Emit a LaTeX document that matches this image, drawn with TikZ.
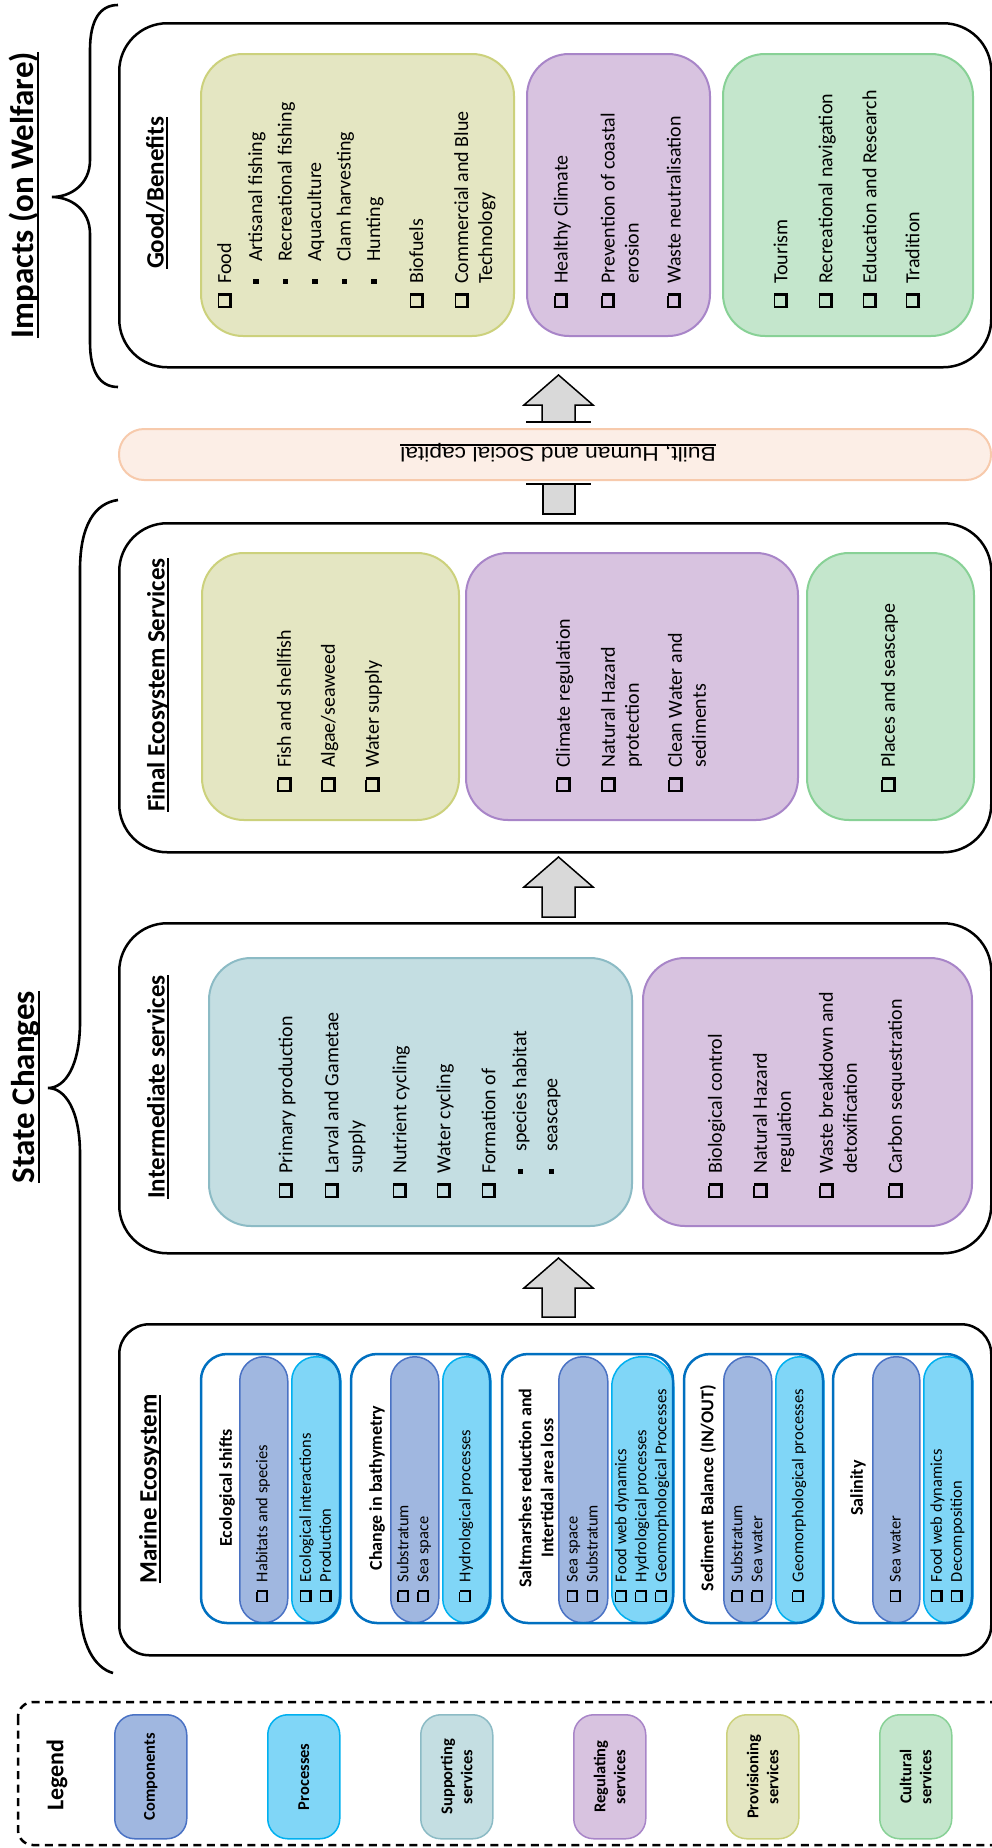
\documentclass[tikz,border=0pt]{standalone}
\usepackage{fontspec}
\setmainfont{Carlito}
\newfontfamily\libs{Liberation Sans}
\definecolor{compF}{RGB}{160,183,224}
\definecolor{compD}{RGB}{74,114,196}
\definecolor{procF}{RGB}{128,214,247}
\definecolor{procD}{RGB}{0,176,240}
\definecolor{suppF}{RGB}{196,222,226}
\definecolor{suppD}{RGB}{140,187,197}
\definecolor{reguF}{RGB}{216,195,224}
\definecolor{reguD}{RGB}{168,133,200}
\definecolor{provF}{RGB}{228,230,194}
\definecolor{provD}{RGB}{204,209,124}
\definecolor{cultF}{RGB}{196,230,204}
\definecolor{cultD}{RGB}{136,209,150}
\definecolor{capF}{RGB}{252,238,230}
\definecolor{capD}{RGB}{247,202,172}
\definecolor{grpD}{RGB}{0,112,192}
\definecolor{arrF}{RGB}{217,217,217}
% shadowed check box drawn with rules
\newcommand{\sqbox}{\makebox[0.72em][l]{%
 \rlap{\rule[-0.04em]{0.72em}{0.15em}}%
 \rlap{\rule[0.6em]{0.58em}{0.07em}}%
 \rlap{\rule[-0.04em]{0.07em}{0.71em}}%
 \rlap{\hspace{0.57em}\rule[-0.04em]{0.15em}{0.69em}}}}
\newcommand{\cbx}{\makebox[1.2em][l]{\sqbox}}
\newcommand{\ind}{\hspace*{1.2em}}
\newcommand{\bul}{\makebox[1.1em][l]{\raisebox{0.18em}{\rule{0.26em}{0.26em}}}}
\newcommand{\ulx}[1]{\setbox0=\hbox{#1}\rlap{\rule[-0.17em]{\wd0}{0.07em}}\box0}
\begin{document}
\begin{tikzpicture}[x=1pt,y=-1pt,
  bigbox/.style={draw=black, line width=2.5pt, fill=white, rounded corners=48pt, inner sep=0pt, anchor=north west},
  svc/.style={line width=2pt, rounded corners=42pt, inner sep=0pt, anchor=north west, minimum height=#1},
  pill/.style={line width=1.5pt, inner sep=0pt, anchor=north west, minimum height=266pt},
  leg/.style={line width=1.5pt, inner sep=0pt, anchor=north west, minimum width=72pt, minimum height=124pt, rounded corners=20pt},
  grpline/.style={draw=grpD, line width=2.5pt, rounded corners=26pt},
  blockarrow/.style={draw=black, fill=arrF, line width=1.5pt, line join=miter},
  brace/.style={draw=black, line width=2.6pt},
  bigtitle/.style={rotate=90, inner sep=0pt, font=\fontsize{33}{40}\selectfont\bfseries},
  boxtitle/.style={rotate=90, inner sep=0pt, font=\fontsize{25}{30}\selectfont\bfseries},
  lst/.style={rotate=90, anchor=west, align=left, inner sep=0pt, font=\fontsize{20}{24}\selectfont},
  mlst/.style={rotate=90, anchor=west, align=left, inner sep=0pt, font=\fontsize{16.5}{20}\selectfont},
  ghead/.style={rotate=90, align=center, inner sep=0pt, font=\fontsize{18}{22}\selectfont\bfseries},
  legtxt/.style={rotate=90, align=center, inner sep=0pt, font=\fontsize{16.5}{20}\selectfont\bfseries}
]
\useasboundingbox (0,0) rectangle (992,1848);

% ---------- braces and big titles ----------
\draw[brace] (118,5) .. controls (100,5) and (90,20) .. (90,50) -- (90,160)
  .. controls (90,185) and (70,197) .. (52,197)
  .. controls (70,197) and (90,209) .. (90,234) -- (90,342)
  .. controls (90,372) and (100,387) .. (118,387);
\node[bigtitle] (tImp) at (24,195) {\ulx{Impacts (on Welfare)}};

\draw[brace] (118,500) .. controls (95,503) and (80,525) .. (80,570) -- (80,1022)
  .. controls (80,1066) and (65,1088) .. (48,1088)
  .. controls (65,1088) and (80,1110) .. (80,1154) -- (80,1603)
  .. controls (80,1645) and (95,1668) .. (113,1673);
\node[bigtitle] (tState) at (26,1087) {\ulx{State Changes}};

% ---------- Goods / Benefits ----------
\node[bigbox, minimum width=872pt, minimum height=344pt] (goods) at (118,22) {};
\node[boxtitle] (tGood) at (157,193) {\ulx{Good/Benefits}};
\node[svc=282pt, draw=provD, fill=provF, minimum width=313pt] (gprov) at (200,53) {};
\node[svc=282pt, draw=reguD, fill=reguF, minimum width=183pt] (greg) at (526,53) {};
\node[svc=282pt, draw=cultD, fill=cultF, minimum width=250pt] (gcult) at (722,53) {};
\node[lst] (gprovT) at (356.5,308) {\cbx Food\\[7pt]
 \ind\bul Artisanal fishing\\[5.5pt]
 \ind\bul Recreational fishing\\[5.5pt]
 \ind\bul Aquaculture\\[5.5pt]
 \ind\bul Clam harvesting\\[5.5pt]
 \ind\bul Hunting\\[19pt]
 \cbx Biofuels\\[21pt]
 \cbx Commercial and Blue\\ \ind Technology};
\node[lst] (gregT) at (617.5,308) {\cbx Healthy Climate\\[23pt]
 \cbx Prevention of coastal\\ \ind erosion\\[18pt]
 \cbx Waste neutralisation};
\node[lst] (gcultT) at (847,308) {\cbx Tourism\\[21pt]
 \cbx Recreational navigation\\[20pt]
 \cbx Education and Research\\[19pt]
 \cbx Tradition};

% ---------- arrow Final -> Goods, through the capital box ----------
\draw[blockarrow] (542,422) -- (542,405) -- (524,405) -- (558.5,375) -- (593,405) -- (575,405) -- (575,422);
\draw[black, line width=2pt] (526,422) -- (591,422);
\draw[blockarrow] (543,484) -- (543,514) -- (575,514) -- (575,484);
\draw[black, line width=2pt] (526,484) -- (591,484);

% ---------- capital ----------
\node[draw=capD, fill=capF, line width=2pt, rounded corners=25pt, inner sep=0pt, anchor=north west,
      minimum width=872pt, minimum height=51pt] (cap) at (118,428) {};
\node[rotate=180, xscale=1.14, inner sep=0pt, font=\libs\fontsize{20}{24}\selectfont] (capT) at (558,453)
  {\ulx{Built, Human and Social capital}};

% ---------- Final Ecosystem Services ----------
\node[bigbox, minimum width=872pt, minimum height=329pt] (final) at (118,522) {};
\node[boxtitle] (tFinal) at (158,685) {\ulx{Final Ecosystem Services}};
\node[svc=267pt, draw=provD, fill=provF, minimum width=257pt] (fprov) at (201,552) {};
\node[svc=267pt, draw=reguD, fill=reguF, minimum width=332pt] (freg) at (465,552) {};
\node[svc=267pt, draw=cultD, fill=cultF, minimum width=167pt] (fcult) at (806,552) {};
\node[lst] (fprovT) at (329.5,792) {\cbx Fish and shellfish\\[20pt]
 \cbx Algae/seaweed\\[20pt]
 \cbx Water supply};
\node[lst] (fregT) at (631,792) {\cbx Climate regulation\\[21pt]
 \cbx Natural Hazard\\ \ind protection\\[19pt]
 \cbx Clean Water and\\ \ind sediments};
\node[lst] (fcultT) at (889.5,792) {\cbx Places and seascape};

% ---------- arrow Intermediate -> Final ----------
\draw[blockarrow] (542,917) -- (542,887) -- (524,887) -- (558.5,857) -- (593,887) -- (575,887) -- (575,917) -- cycle;

% ---------- Intermediate services ----------
\node[bigbox, minimum width=872pt, minimum height=330pt] (inter) at (118,922) {};
\node[boxtitle] (tInter) at (158,1087) {\ulx{Intermediate services}};
\node[svc=268pt, draw=suppD, fill=suppF, minimum width=423pt] (isupp) at (208,957) {};
\node[svc=268pt, draw=reguD, fill=reguF, minimum width=329pt] (ireg) at (642,957) {};
\node[lst] (isuppT) at (419.5,1198) {\cbx Primary production\\[22pt]
 \cbx Larval and Gametae\\ \ind supply\\[20pt]
 \cbx Nutrient cycling\\[20pt]
 \cbx Water cycling\\[21pt]
 \cbx Formation of\\[7pt]
 \ind\bul species habitat\\[7pt]
 \ind\bul seascape};
\node[lst] (iregT) at (806.5,1198) {\cbx Biological control\\[21pt]
 \cbx Natural Hazard\\ \ind regulation\\[18pt]
 \cbx Waste breakdown and\\ \ind detoxification\\[21pt]
 \cbx Carbon sequestration};

% ---------- arrow Marine -> Intermediate ----------
\draw[blockarrow] (542,1317) -- (542,1288) -- (524,1288) -- (558.5,1258) -- (593,1288) -- (575,1288) -- (575,1317) -- cycle;

% ---------- Marine Ecosystem ----------
\node[bigbox, rounded corners=30pt, minimum width=872pt, minimum height=331pt] (marine) at (118,1323) {};
\node[boxtitle] (tMarine) at (150,1489) {\ulx{Marine Ecosystem}};

% group 1
\fill[white, rounded corners=26pt] (201,1354) rectangle (340,1623);
\node[pill, draw=compD, fill=compF, minimum width=48pt, rounded corners=24pt] (g1c) at (239,1356) {};
\node[pill, draw=procD, fill=procF, minimum width=49pt, rounded corners=24pt] (g1p) at (291,1356) {};
\draw[grpline] (201,1354) rectangle (340,1623);
\node[ghead] (g1h) at (227,1488) {Ecological shifts};
\node[mlst] (g1cT) at (263,1602) {\cbx Habitats and species};
\node[mlst] (g1pT) at (315.5,1602) {\cbx Ecological interactions\\ \cbx Production};

% group 2
\fill[white, rounded corners=26pt] (351,1354) rectangle (490,1623);
\node[pill, draw=compD, fill=compF, minimum width=48pt, rounded corners=24pt] (g2c) at (390,1356) {};
\node[pill, draw=procD, fill=procF, minimum width=48pt, rounded corners=24pt] (g2p) at (442,1356) {};
\draw[grpline] (351,1354) rectangle (490,1623);
\node[ghead] (g2h) at (377,1488) {Change in bathymetry};
\node[mlst] (g2cT) at (414,1602) {\cbx Substratum\\ \cbx Sea space};
\node[mlst] (g2pT) at (466,1602) {\cbx Hydrological processes};

% group 3
\fill[white, rounded corners=26pt] (502,1354) rectangle (673,1623);
\node[pill, draw=compD, fill=compF, minimum width=49pt, rounded corners=24pt] (g3c) at (558,1356) {};
\node[pill, draw=procD, fill=procF, minimum width=62pt, rounded corners=30pt] (g3p) at (611,1356) {};
\draw[grpline] (502,1354) rectangle (673,1623);
\node[ghead] (g3h) at (536,1488) {Saltmarshes reduction and\\Intertidal area loss};
\node[mlst] (g3cT) at (582.5,1602) {\cbx Sea space\\ \cbx Substratum};
\node[mlst] (g3pT) at (642,1602) {\cbx Food web dynamics\\ \cbx Hydrological processes\\ \cbx Geomorphological Processes};

% group 4
\fill[white, rounded corners=26pt] (684,1354) rectangle (823,1623);
\node[pill, draw=compD, fill=compF, minimum width=48pt, rounded corners=24pt] (g4c) at (723,1356) {};
\node[pill, draw=procD, fill=procF, minimum width=48pt, rounded corners=24pt] (g4p) at (775,1356) {};
\draw[grpline] (684,1354) rectangle (823,1623);
\node[ghead] (g4h) at (708,1488) {Sediment Balance (IN/OUT)};
\node[mlst] (g4cT) at (747,1602) {\cbx Substratum\\ \cbx Sea water};
\node[mlst] (g4pT) at (799,1602) {\cbx Geomorphological processes};

% group 5
\fill[white, rounded corners=26pt] (833,1354) rectangle (972,1623);
\node[pill, draw=compD, fill=compF, minimum width=47pt, rounded corners=23pt] (g5c) at (872,1356) {};
\node[pill, draw=procD, fill=procF, minimum width=49pt, rounded corners=24pt] (g5p) at (923,1356) {};
\draw[grpline] (833,1354) rectangle (972,1623);
\node[ghead] (g5h) at (858,1488) {Salinity};
\node[mlst] (g5cT) at (895.5,1602) {\cbx Sea water};
\node[mlst] (g5pT) at (947.5,1602) {\cbx Food web dynamics\\ \cbx Decomposition};

% ---------- Legend ----------
\draw[black, line width=2.5pt, dash pattern=on 8pt off 5.5pt, rounded corners=15pt] (18,1702) rectangle (1010,1845);
\node[rotate=90, inner sep=0pt, font=\fontsize{24}{28}\selectfont\bfseries] (legT) at (57,1775) {Legend};
\node[leg, draw=compD, fill=compF] (l1) at (114,1714) {};
\node[leg, draw=procD, fill=procF] (l2) at (267,1714) {};
\node[leg, draw=suppD, fill=suppF] (l3) at (420,1714) {};
\node[leg, draw=reguD, fill=reguF] (l4) at (573,1714) {};
\node[leg, draw=provD, fill=provF] (l5) at (726,1714) {};
\node[leg, draw=cultD, fill=cultF] (l6) at (879,1714) {};
\node[legtxt] (l1T) at (l1.center) {Components};
\node[legtxt] (l2T) at (l2.center) {Processes};
\node[legtxt] (l3T) at (l3.center) {Supporting\\services};
\node[legtxt] (l4T) at (l4.center) {Regulating\\services};
\node[legtxt] (l5T) at (l5.center) {Provisioning\\services};
\node[legtxt] (l6T) at (l6.center) {Cultural\\services};
\end{tikzpicture}
\end{document}
